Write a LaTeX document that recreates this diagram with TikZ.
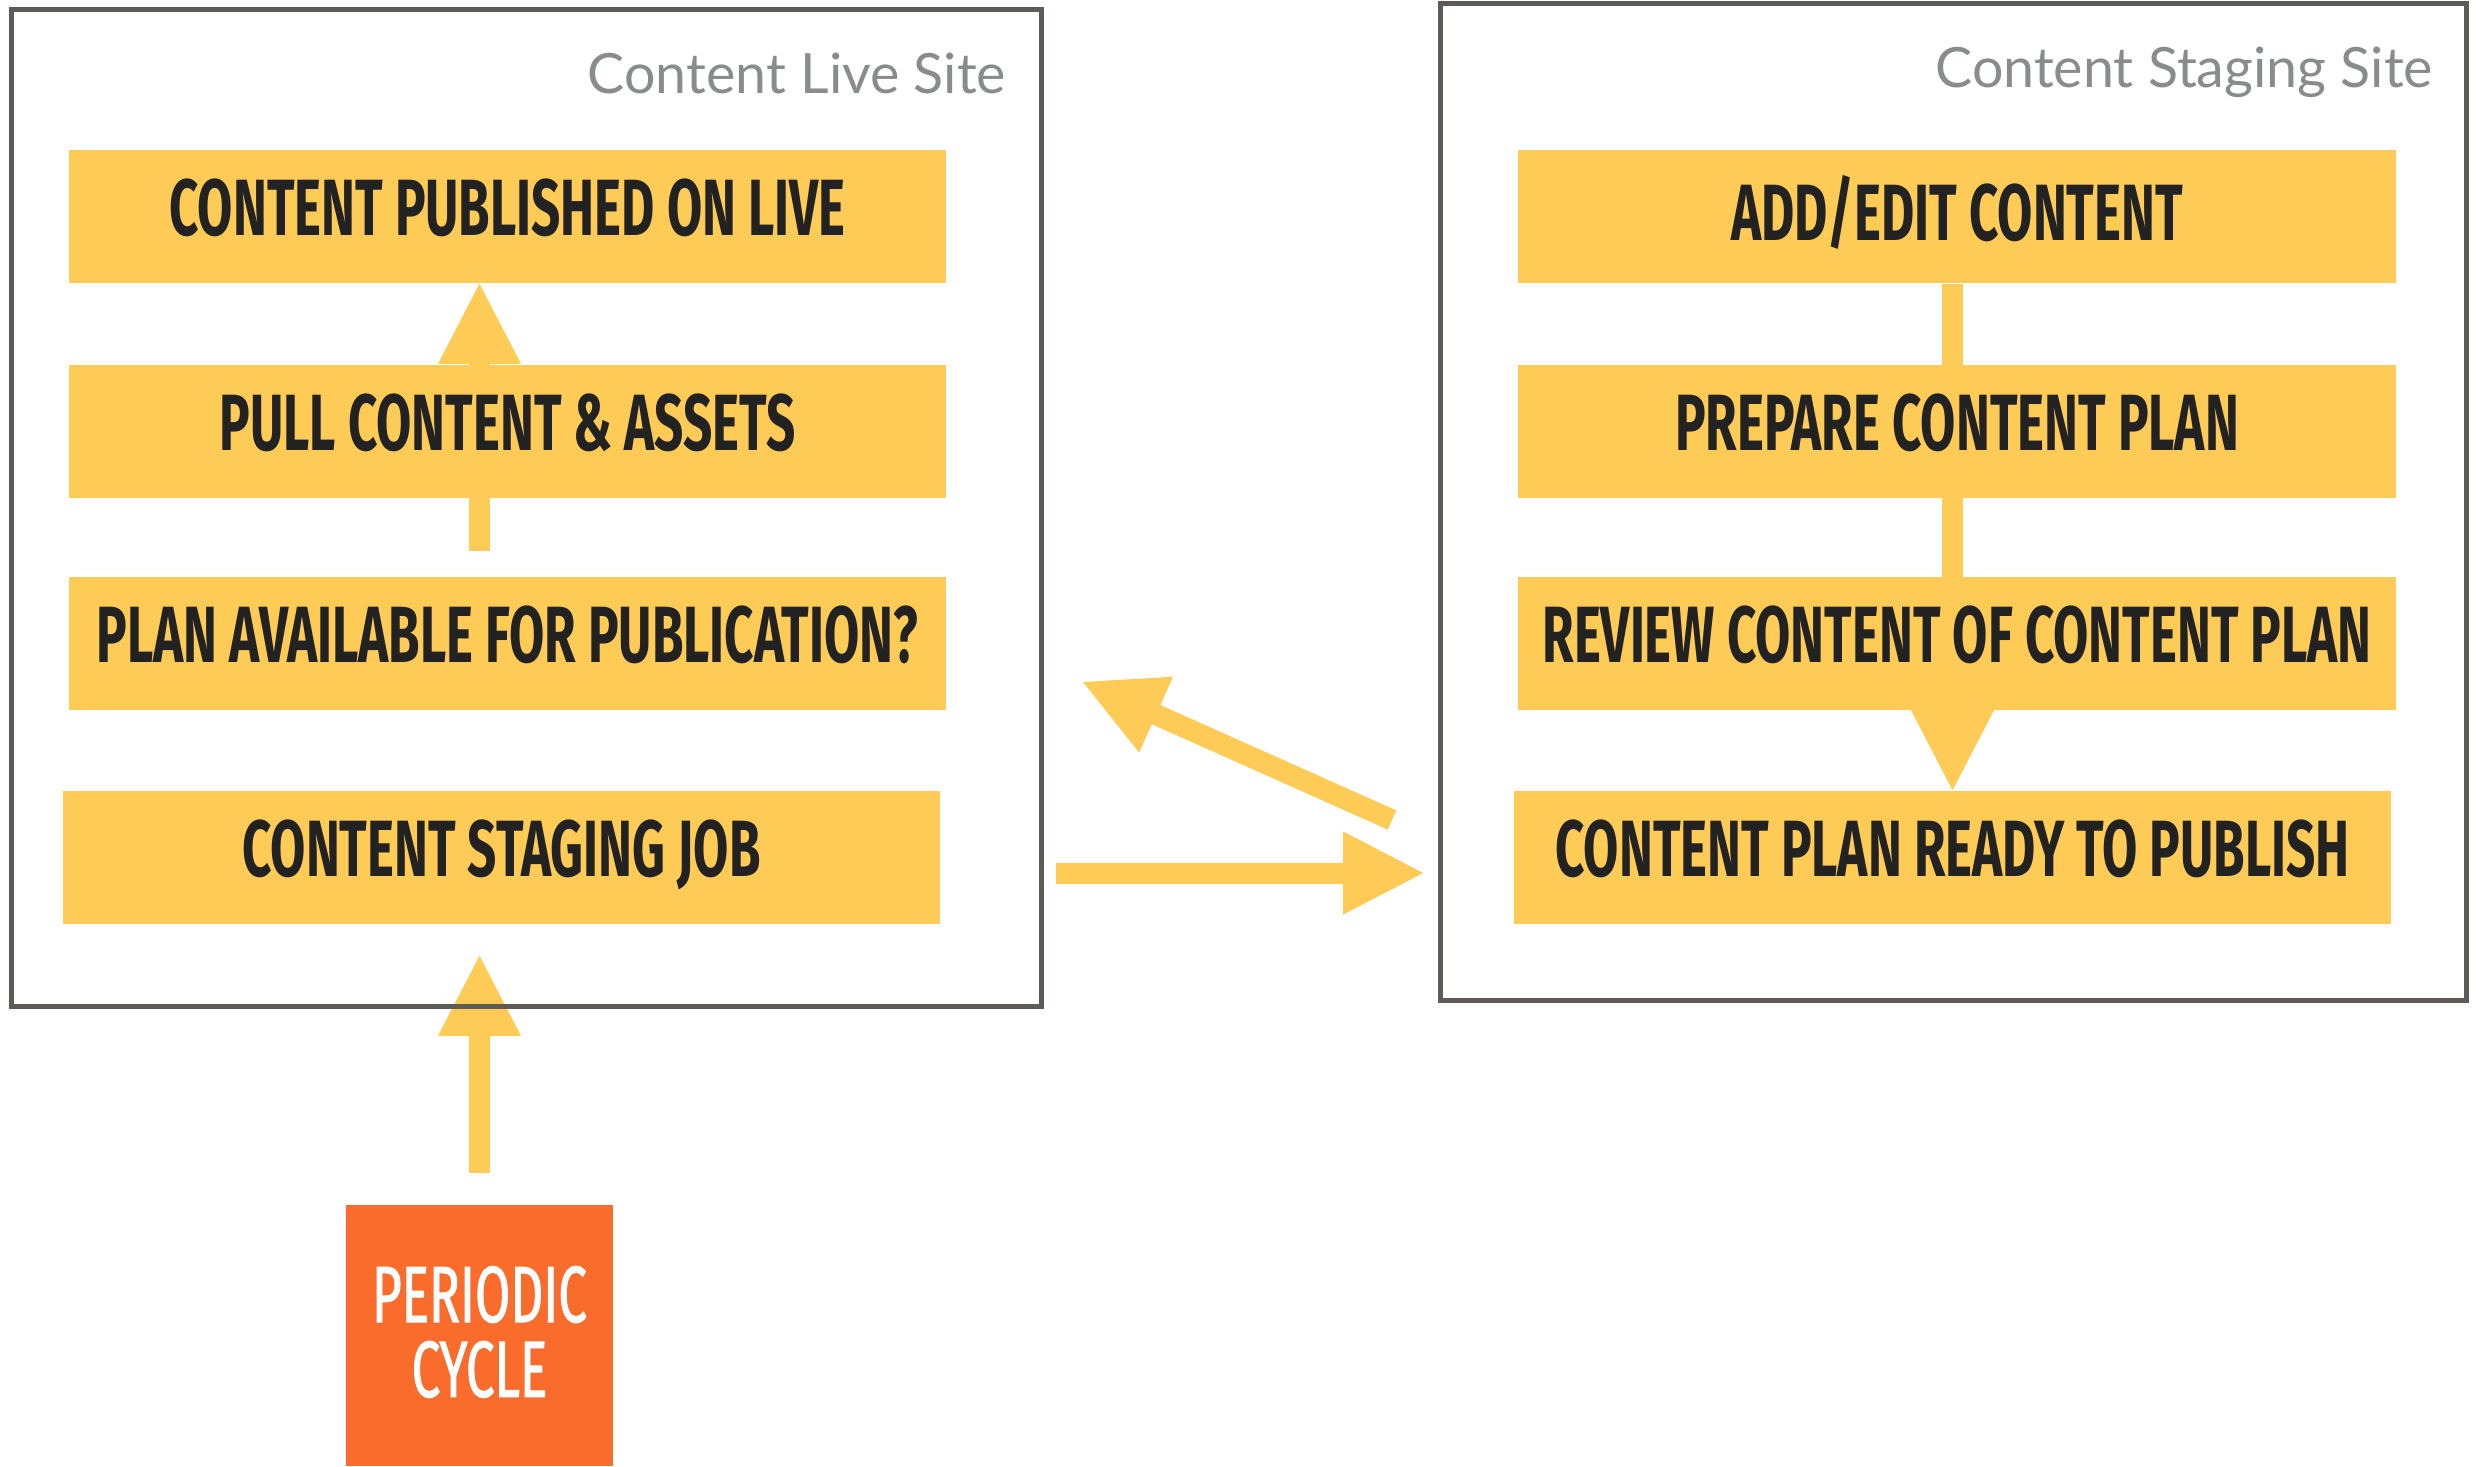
\documentclass[tikz,border=0pt]{standalone}
\usepackage{fontspec}
\usetikzlibrary{arrows.meta,backgrounds}

\newfontfamily\stagefont[FakeStretch=0.64]{Fira Sans}
\newfontfamily\cyclefont[FakeStretch=0.64, FakeBold=1.2]{Fira Sans}
\newfontfamily\sitefont{Lato}

\definecolor{figyellow}{HTML}{FECB57}
\definecolor{figorange}{HTML}{F96C2C}
\definecolor{figframe}{HTML}{5E5A55}
\definecolor{figgrey}{HTML}{898C8C}
\definecolor{figink}{HTML}{222222}

\begin{document}
\begin{tikzpicture}[
  x=0.01cm, y=-0.01cm,
  stage/.style={rectangle, fill=figyellow, minimum width=8.77cm, minimum height=1.33cm,
                inner sep=0pt, text=figink, text depth=0.18cm,
                font=\stagefont\bfseries\fontsize{22.7pt}{27pt}\selectfont},
  site/.style={rectangle, draw=figframe, line width=0.05cm, inner sep=0pt},
  sitelab/.style={font=\sitefont\fontsize{15.8pt}{19pt}\selectfont, text=figgrey,
                  anchor=base east, inner sep=0pt},
  trigger/.style={rectangle, fill=figorange, minimum width=2.67cm, minimum height=2.61cm,
                  inner sep=0pt, align=center, text=white, text depth=0.08cm,
                  font=\cyclefont\fontsize{22.7pt}{21.3pt}\selectfont},
  flow/.style={draw=figyellow, line width=0.21cm,
               -{Triangle[width=0.83cm, length=0.8cm, line width=0pt]}}]

  \useasboundingbox (0,0) rectangle (2476,1466);

  % ---- live site ---------------------------------------------------------
  \node[site, minimum width=10.29cm, minimum height=9.96cm] (live) at (526.5,508) {};
  \node[sitelab] at ([shift={(-0.37cm,-0.86cm)}]live.north east) {Content Live Site};

  \node[stage] (pub)  at (507.5,216.5) {CONTENT PUBLISHED ON LIVE};
  \node[stage] (pull) at (507.5,431.5) {PULL CONTENT \& ASSETS};
  \node[stage] (plan) at (507.5,643.5) {PLAN AVAILABLE FOR PUBLICATION?};
  \node[stage] (job)  at (501.5,857.5) {CONTENT STAGING JOB};

  % ---- staging site ------------------------------------------------------
  \node[site, minimum width=10.25cm, minimum height=9.96cm] (staging) at (1953.5,502) {};
  \node[sitelab] at ([shift={(-0.35cm,-0.86cm)}]staging.north east) {Content Staging Site};

  \node[stage] (add)    at (1957,216.5)   {ADD/EDIT CONTENT};
  \node[stage] (prep)   at (1957,431.5)   {PREPARE CONTENT PLAN};
  \node[stage] (review) at (1957,643.5)   {REVIEW CONTENT OF CONTENT PLAN};
  \node[stage] (ready)  at (1952.5,857.5) {CONTENT PLAN READY TO PUBLISH};

  % ---- trigger -----------------------------------------------------------
  \node[trigger] (cycle) at (479.5,1335.5) {PERIODIC\\CYCLE};

  % ---- arrows, kept behind the boxes -------------------------------------
  \coordinate (push-from) at (1056,873);
  \coordinate (back-from) at (1392,820);
  \coordinate (back-to)   at (1083,682);

  \begin{scope}[on background layer]
    \draw[flow, shorten <=0.25cm] (cycle.north |- plan.north) -- (cycle.north |- pub.south);
    \draw[flow] (add.south -| ready.north) -- (ready.north);
    \draw[flow, shorten <=0.31cm, shorten >=0.31cm] (cycle.north) -- (cycle.north |- job.south);
    \draw[flow, shorten >=0.15cm] (push-from) -- (push-from -| staging.west);
    \draw[flow] (back-from) -- (back-to);
  \end{scope}
\end{tikzpicture}
\end{document}
